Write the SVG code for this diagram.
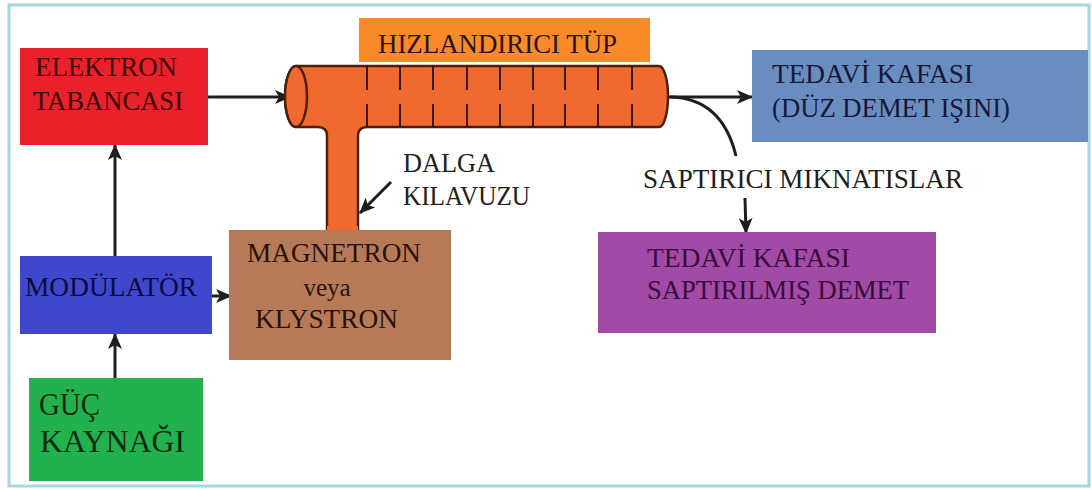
<svg xmlns="http://www.w3.org/2000/svg" width="1092" height="490" viewBox="0 0 1092 490">
<style>
.t{font-family:"Liberation Serif","Times New Roman",serif;font-size:27px}
.ln{stroke:#1e1e1e;stroke-width:3;fill:none}
.tick{stroke:#3a1a0a;stroke-width:2}
</style>
<defs>
<marker id="ah" markerUnits="userSpaceOnUse" markerWidth="16" markerHeight="14" refX="15" refY="7" orient="auto">
<path d="M0,0 L16,7 L0,14 L4,7 Z" fill="#1e1e1e"/>
</marker>
</defs>
<rect x="0" y="0" width="1092" height="490" fill="#ffffff"/>
<rect x="9" y="5" width="1080" height="481" fill="none" stroke="#a6d6e0" stroke-width="3"/>

<g id="connectors">
<line class="ln" x1="208" y1="97" x2="290" y2="97" marker-end="url(#ah)"/>
<line class="ln" x1="668" y1="97" x2="752" y2="97" marker-end="url(#ah)"/>
<path class="ln" d="M670,97 Q722,98 736,156"/>
<line class="ln" x1="745" y1="198" x2="746" y2="233" marker-end="url(#ah)"/>
<line class="ln" x1="115" y1="256" x2="115" y2="145" marker-end="url(#ah)"/>
<line class="ln" x1="115" y1="378" x2="115" y2="334" marker-end="url(#ah)"/>
<line class="ln" x1="212" y1="296" x2="231" y2="296" marker-end="url(#ah)"/>
<line class="ln" x1="391" y1="182" x2="360" y2="213" marker-end="url(#ah)"/>
</g>

<g id="elektron">
<rect x="20" y="48" width="188" height="97" fill="#e8212b"/>
<text class="t" x="35" y="76" textLength="142" lengthAdjust="spacingAndGlyphs" fill="#3a0505">ELEKTRON</text>
<text class="t" x="33" y="110" textLength="150" lengthAdjust="spacingAndGlyphs" fill="#3a0505">TABANCASI</text>
</g>

<g id="hizlandirici-label">
<rect x="359" y="18" width="291" height="44" fill="#f98a2a"/>
<text class="t" x="378" y="53" textLength="239" lengthAdjust="spacingAndGlyphs" fill="#2a1408">HIZLANDIRICI TÜP</text>
</g>

<g id="tube">
<path d="M296,66 L659,66 A9,30.5 0 0 1 659,127 L367,127 Q358,127 358,136 L358,231 L327,231 L327,136 Q327,127 318,127 L296,127 A11,30.5 0 0 1 296,66 Z" fill="#f0692f" stroke="#4a200c" stroke-width="2.5"/>
<path d="M327,228 L358,228" stroke="#f0692f" stroke-width="4"/>
<ellipse cx="296" cy="96.5" rx="11" ry="30.5" fill="#f0692f" stroke="#4a200c" stroke-width="2.5"/>
<g class="tick">
<line x1="367" y1="66" x2="367" y2="90"/><line x1="367" y1="104" x2="367" y2="127"/>
<line x1="400" y1="66" x2="400" y2="90"/><line x1="400" y1="104" x2="400" y2="127"/>
<line x1="433" y1="66" x2="433" y2="90"/><line x1="433" y1="104" x2="433" y2="127"/>
<line x1="467" y1="66" x2="467" y2="90"/><line x1="467" y1="104" x2="467" y2="127"/>
<line x1="500" y1="66" x2="500" y2="90"/><line x1="500" y1="104" x2="500" y2="127"/>
<line x1="533" y1="66" x2="533" y2="90"/><line x1="533" y1="104" x2="533" y2="127"/>
<line x1="565" y1="66" x2="565" y2="90"/><line x1="565" y1="104" x2="565" y2="127"/>
<line x1="598" y1="66" x2="598" y2="90"/><line x1="598" y1="104" x2="598" y2="127"/>
<line x1="632" y1="66" x2="632" y2="90"/><line x1="632" y1="104" x2="632" y2="127"/>
</g>
</g>

<g id="dalga-label">
<text class="t" x="403" y="172" textLength="92" lengthAdjust="spacingAndGlyphs" fill="#222222">DALGA</text>
<text class="t" x="403" y="205" textLength="127" lengthAdjust="spacingAndGlyphs" fill="#222222">KILAVUZU</text>
</g>

<g id="tedavi-duz">
<rect x="752" y="50" width="336" height="92" fill="#6a8dbf"/>
<text class="t" x="772" y="83" textLength="201" lengthAdjust="spacingAndGlyphs" fill="#15183a">TEDAVİ KAFASI</text>
<text class="t" x="772" y="117" textLength="238" lengthAdjust="spacingAndGlyphs" fill="#15183a">(DÜZ DEMET IŞINI)</text>
</g>

<g id="saptirici-label">
<text class="t" x="643" y="188" textLength="320" lengthAdjust="spacingAndGlyphs" fill="#1e1e1e">SAPTIRICI MIKNATISLAR</text>
</g>

<g id="tedavi-saptirilmis">
<rect x="598" y="232" width="338" height="101" fill="#a14aa6"/>
<text class="t" x="647" y="267" textLength="203" lengthAdjust="spacingAndGlyphs" fill="#3a0a3c">TEDAVİ KAFASI</text>
<text class="t" x="647" y="299" textLength="262" lengthAdjust="spacingAndGlyphs" fill="#3a0a3c">SAPTIRILMIŞ DEMET</text>
</g>

<g id="modulator">
<rect x="20" y="256" width="192" height="78" fill="#3f47cc"/>
<text class="t" x="25" y="296" textLength="172" lengthAdjust="spacingAndGlyphs" fill="#0a0c40">MODÜLATÖR</text>
</g>

<g id="magnetron">
<rect x="229" y="230" width="222" height="130" fill="#b67a59"/>
<text class="t" x="247" y="262" textLength="174" lengthAdjust="spacingAndGlyphs" fill="#2a1206">MAGNETRON</text>
<text class="t" x="327" y="296" text-anchor="middle" style="font-size:25px" fill="#2a1206">veya</text>
<text class="t" x="255" y="328" textLength="143" lengthAdjust="spacingAndGlyphs" fill="#2a1206">KLYSTRON</text>
</g>

<g id="guc">
<rect x="29" y="378" width="174" height="103" fill="#22b14c"/>
<text class="t" x="39" y="415" style="font-size:31px" textLength="61" lengthAdjust="spacingAndGlyphs" fill="#0a2a10">GÜÇ</text>
<text class="t" x="40" y="452" style="font-size:31px" textLength="145" lengthAdjust="spacingAndGlyphs" fill="#0a2a10">KAYNAĞI</text>
</g>
</svg>
